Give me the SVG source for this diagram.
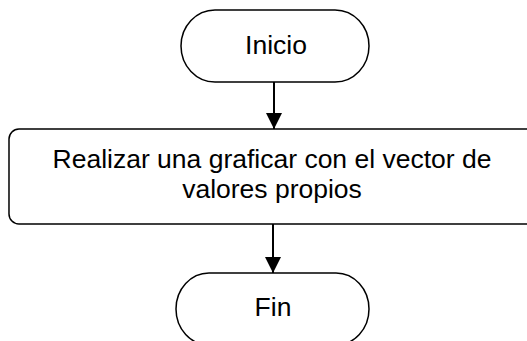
<svg xmlns="http://www.w3.org/2000/svg" width="527" height="341" viewBox="0 0 527 341">
<style>
.shape{fill:#fff;stroke:#000;stroke-width:1.5}
.lbl{font-family:"Liberation Sans",Arial,sans-serif;font-size:26.5px;fill:#000;text-anchor:middle}
.conn{stroke:#000;stroke-width:2;fill:none}
</style>
<defs>
<marker id="arr" markerWidth="16" markerHeight="16" refX="16" refY="8" orient="auto" markerUnits="userSpaceOnUse">
<path d="M0,0 L16,8 L0,16 Z" fill="#000"/>
</marker>
</defs>
<g id="connectors">
<line class="conn" x1="274" y1="82" x2="274" y2="129" marker-end="url(#arr)"/>
<line class="conn" x1="273" y1="224" x2="273" y2="273" marker-end="url(#arr)"/>
</g>
<g id="inicio">
<rect class="shape" x="181" y="10" width="188" height="72" rx="34" ry="36"/>
<text class="lbl" x="276" y="54">Inicio</text>
</g>
<g id="proceso">
<rect class="shape" x="9" y="129" width="527" height="95" rx="10" ry="10"/>
<text class="lbl" x="272" y="168">Realizar una graficar con el vector de</text>
<text class="lbl" x="272" y="198">valores propios</text>
</g>
<g id="fin">
<rect class="shape" x="176" y="273" width="193" height="72" rx="33" ry="36"/>
<text class="lbl" x="273" y="316">Fin</text>
</g>
</svg>
